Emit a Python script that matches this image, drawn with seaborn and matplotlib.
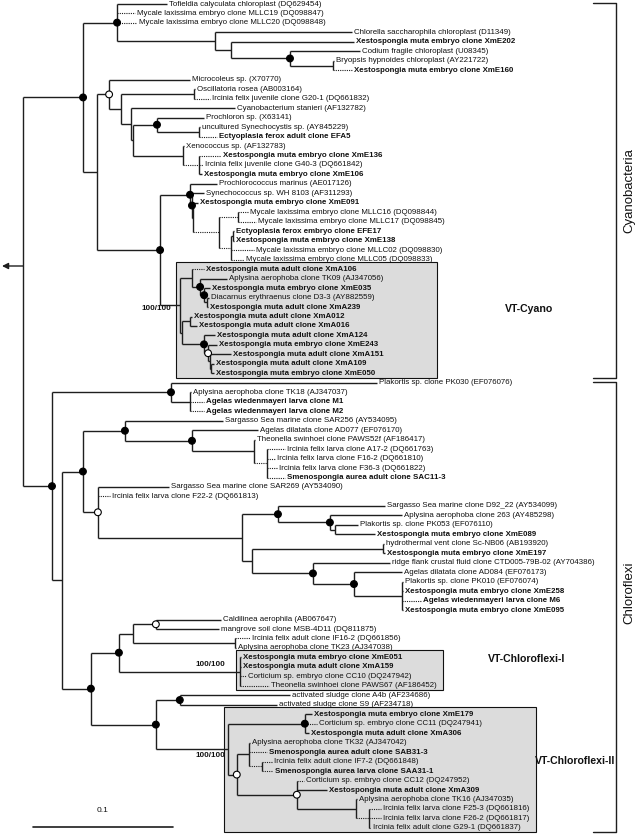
import matplotlib
matplotlib.use("Agg")
import matplotlib.pyplot as plt
from matplotlib.collections import LineCollection
from matplotlib.patches import Rectangle
import pandas as pd
import seaborn as sns

# ---------------- data ----------------
leaf_labels = [
    "Tofieldia calyculata chloroplast (DQ629454)",
    "Mycale laxissima embryo clone MLLC19 (DQ098847)",
    "Mycale laxissima embryo clone MLLC20 (DQ098848)",
    "Chlorella saccharophila chloroplast (D11349)",
    "Xestospongia muta embryo clone XmE202",
    "Codium fragile chloroplast (U08345)",
    "Bryopsis hypnoides chloroplast (AY221722)",
    "Xestospongia muta embryo clone XmE160",
    "Microcoleus sp. (X70770)",
    "Oscillatoria rosea (AB003164)",
    "Ircinia felix juvenile clone G20-1 (DQ661832)",
    "Cyanobacterium stanieri (AF132782)",
    "Prochloron sp. (X63141)",
    "uncultured Synechocystis sp. (AY845229)",
    "Ectyoplasia ferox adult clone EFA5",
    "Xenococcus sp. (AF132783)",
    "Xestospongia muta embryo clone XmE136",
    "Ircinia felix juvenile clone G40-3 (DQ661842)",
    "Xestospongia muta embryo clone XmE106",
    "Prochlorococcus marinus (AE017126)",
    "Synechococcus sp. WH 8103 (AF311293)",
    "Xestospongia muta embryo clone XmE091",
    "Mycale laxissima embryo clone MLLC16 (DQ098844)",
    "Mycale laxissima embryo clone MLLC17 (DQ098845)",
    "Ectyoplasia ferox embryo clone EFE17",
    "Xestospongia muta embryo clone XmE138",
    "Mycale laxissima embryo clone MLLC02 (DQ098830)",
    "Mycale laxissima embryo clone MLLC05 (DQ098833)",
    "Xestospongia muta adult clone XmA106",
    "Aplysina aerophoba clone TK09 (AJ347056)",
    "Xestospongia muta embryo clone XmE035",
    "Diacarnus erythraenus clone D3-3 (AY882559)",
    "Xestospongia muta adult clone XmA239",
    "Xestospongia muta adult clone XmA012",
    "Xestospongia muta adult clone XmA016",
    "Xestospongia muta adult clone XmA124",
    "Xestospongia muta embryo clone XmE243",
    "Xestospongia muta adult clone XmA151",
    "Xestospongia muta adult clone XmA109",
    "Xestospongia muta embryo clone XmE050",
    "Plakortis sp. clone PK030 (EF076076)",
    "Aplysina aerophoba clone TK18 (AJ347037)",
    "Agelas wiedenmayeri larva clone M1",
    "Agelas wiedenmayeri larva clone M2",
    "Sargasso Sea marine clone SAR256 (AY534095)",
    "Agelas dilatata clone AD077 (EF076170)",
    "Theonella swinhoei clone PAWS52f (AF186417)",
    "Ircinia felix larva clone A17-2 (DQ661763)",
    "Ircinia felix larva clone F16-2 (DQ661810)",
    "Ircinia felix larva clone F36-3 (DQ661822)",
    "Smenospongia aurea adult clone SAC11-3",
    "Sargasso Sea marine clone SAR269 (AY534090)",
    "Ircinia felix larva clone F22-2 (DQ661813)",
    "Sargasso Sea marine clone D92_22 (AY534099)",
    "Aplysina aerophoba clone 263 (AY485298)",
    "Plakortis sp. clone PK053 (EF076110)",
    "Xestospongia muta embryo clone XmE089",
    "hydrothermal vent clone Sc-NB06 (AB193920)",
    "Xestospongia muta embryo clone XmE197",
    "ridge flank crustal fluid clone CTD005-79B-02 (AY704386)",
    "Agelas dilatata clone AD084 (EF076173)",
    "Plakortis sp. clone PK010 (EF076074)",
    "Xestospongia muta embryo clone XmE258",
    "Agelas wiedenmayeri larva clone M6",
    "Xestospongia muta embryo clone XmE095",
    "Caldilinea aerophila (AB067647)",
    "mangrove soil clone MSB-4D11 (DQ811875)",
    "Ircinia felix adult clone IF16-2 (DQ661856)",
    "Aplysina aerophoba clone TK23 (AJ347038)",
    "Xestospongia muta embryo clone XmE051",
    "Xestospongia muta adult clone XmA159",
    "Corticium sp. embryo clone CC10 (DQ247942)",
    "Theonella swinhoei clone PAWS67 (AF186452)",
    "activated sludge clone A4b (AF234686)",
    "activated sludge clone S9 (AF234718)",
    "Xestospongia muta embryo clone XmE179",
    "Corticium sp. embryo clone CC11 (DQ247941)",
    "Xestospongia muta adult clone XmA306",
    "Aplysina aerophoba clone TK32 (AJ347042)",
    "Smenospongia aurea adult clone SAB31-3",
    "Ircinia felix adult clone IF7-2 (DQ661848)",
    "Smenospongia aurea larva clone SAA31-1",
    "Corticium sp. embryo clone CC12 (DQ247952)",
    "Xestospongia muta adult clone XmA309",
    "Aplysina aerophoba clone TK16 (AJ347035)",
    "Ircinia felix larva clone F25-3 (DQ661816)",
    "Ircinia felix larva clone F26-2 (DQ661817)",
    "Ircinia felix adult clone G29-1 (DQ661837)",
]
bold_taxa = ["Xestospongia muta", "Ectyoplasia ferox", "Agelas wiedenmayeri", "Smenospongia aurea"]

# Newick pieces: leaf number = index in leaf_labels (1-based); branch lengths in 0.001 subst./site
# flags: f = filled node (support), o = open node, d = dotted branch
chloroplasts = "(1:35.7,2d:12.9,3d:14.3,(4:97.9,(5:87.9,(6:50,(7:0.7,8d:13.6):30.7)f:42.1):11.4):70)f:24.3"
cyano_basal = ("(9:57.9,((10:0.7,11d:11.4):52.1,(12:74.3,((13:33.6,(14:0.7,15d:12.9):30)f:17.1,"
               "(16:0.7,(17d:15.7,18d:2.9,19:2.1)d:11.4):35.7):1.4):7.1):8.6)o:8.6")
cyano_marine = ("(20:19.3,(21:8.6,(22:3.6,((23d:7.1,24d:12.9)d:13.6,((25:0.7,26:0.4):1.4,27d:16.4,28d:9.3)d:8.6)d:18.6)"
                ":0.7)f:1.4)f:21.4")
vt_cyano = ("((29d:8.6,(30:19.3,(31:4.3,(32:1.4,33:0.7):2.1)f:2.9)f:5.7):8.6,"
            "((34:1.4,35:5):5.7,(36:7.9,(37:6.4,(38:15,(39:2.1,40:2.1):0.4):1.4)o:2.9)f:15.7):1.4):14.3")
plakortis = "(41:147.1,(42:0.7,43d:10,44d:10):13.6)f:85"
chloroflexi_a = "(45:70,(46:47.1,(47:0.7,(48d:12.9,49d:5.7,50d:7.1,51d:12.9)d:9.3):44.3)f:47.9)f:30"
chloroflexi_b = ("(52:50.7,53d:8.6,((54:76.4,(55:51.4,(56:16.4,57:28.6):3.6)f:37.1)f:25.7,"
                 "((58:0.7,59:1.4):93.6,(60:55,(61:34.3,(62:0.7,63:0.7,64d:13.6,65:0.7):34.3)f:29.3)f:43.6):7.1)"
                 ":102.9)o:10.7")
chloroflexi_c = ("(((66:46.4,67:45)o:16.4,(68d:10.7,69:0.7):72.9):10,"
                 "(70:0.7,71:0.7,72d:4.3,73d:20.7):86.4)f:20")
chloroflexi_d = ("((74:78.6,75:69.3)f:17.1,((76:5,77d:8.6,78:2.9)f:55,"
                 "((79:0.7,80d:12.9,(81d:7.1,82d:7.9)d:9.3):8.6,"
                 "(83d:5,84:21.4,(85:0.7,(86d:8.6,87d:8.6,88d:1.4)d:9.3):42.1)o:42.9)o:6.4):51.4)f:46.4")

box_clades = [("VT-Cyano", 29, 40), ("VT-Chloroflexi-I", 70, 73), ("VT-Chloroflexi-II", 76, 88)]
box_support = ["100/100", "100/100", "100/100"]
major_groups = [("Cyanobacteria", 1, 40), ("Chloroflexi", 41, 88)]
scale_value = 0.1
UNIT = 0.001

tree_str = ("(({chl},({cb},({cm},{vt})f:45):10)f:42.9,({pl},(({ca},{cbb})f:15,({cc},{cd})f:20.7):7.1)f:20.7)"
            .format(chl=chloroplasts, cb=cyano_basal, cm=cyano_marine, vt=vt_cyano, pl=plakortis,
                    ca=chloroflexi_a, cbb=chloroflexi_b, cc=chloroflexi_c, cd=chloroflexi_d))


# ---------------- parse ----------------
class Node:
    def __init__(self):
        self.children, self.leaf, self.flags, self.length = [], None, "", 0.0
        self.x = self.y = 0.0


def parse(s):
    pos = 0

    def node():
        nonlocal pos
        n = Node()
        if s[pos] == "(":
            pos += 1
            n.children.append(node())
            while s[pos] == ",":
                pos += 1
                n.children.append(node())
            pos += 1
        st = pos
        while pos < len(s) and s[pos] not in ":,)":
            pos += 1
        lab = s[st:pos]
        digits = "".join(c for c in lab if c.isdigit())
        if digits:
            n.leaf = int(digits)
        n.flags = "".join(c for c in lab if c.isalpha())
        if pos < len(s) and s[pos] == ":":
            pos += 1
            st = pos
            while pos < len(s) and s[pos] not in ",)":
                pos += 1
            n.length = float(s[st:pos])
        return n

    return node()


root = parse(tree_str)
nodes, leaves = [], []


def layout(n, x):
    n.x = x + n.length * UNIT
    nodes.append(n)
    if n.leaf is not None:
        n.y = n.leaf - 1
        leaves.append(n)
        n.span = (n.leaf, n.leaf)
    else:
        for c in n.children:
            layout(c, n.x)
        n.y = (n.children[0].y + n.children[-1].y) / 2
        n.span = (n.children[0].span[0], n.children[-1].span[1])


layout(root, 0.0)

# ---------------- figure ----------------
sns.set_theme(style="white")
plt.rcParams["font.family"] = ["Liberation Sans", "DejaVu Sans"]
W, H = 640, 836
fig = plt.figure(figsize=(W / 100, H / 100), dpi=100)
ax = fig.add_axes([0, 0, 1, 1])
PX = scale_value / 140.0          # data units per pixel (x)
ROOT_PX = 23
ROW = 9.47                        # pixels per leaf row
TOP = 4
ax.set_xlim(-ROOT_PX * PX, (W - ROOT_PX) * PX)
ax.set_ylim((H - TOP) / ROW, -TOP / ROW)
ax.axis("off")


def xp(p):
    return (p - ROOT_PX) * PX


def yp(p):
    return (p - TOP) / ROW


LC = "#1e1e1e"
solid, dotted = [], []
for n in nodes:
    if n.children:
        solid.append([(n.x, n.children[0].y), (n.x, n.children[-1].y)])
        for c in n.children:
            seg = [(n.x, c.y), (c.x, c.y)]
            (dotted if "d" in c.flags else solid).append(seg)
ax.add_collection(LineCollection(solid, colors=LC, linewidths=1.0, zorder=3, capstyle="butt"))
ax.add_collection(LineCollection(dotted, colors=LC, linewidths=0.8, linestyles=[(0, (1, 1))], zorder=3))

# root arrow (drawn at the level where the original figure places it)
ARROW_Y = yp(266)
ax.annotate("", xy=(xp(2), ARROW_Y), xytext=(root.x, ARROW_Y),
            arrowprops=dict(arrowstyle="-|>", color=LC, lw=1.0, mutation_scale=9, shrinkA=0, shrinkB=0))

# support markers
mk = pd.DataFrame([(n.x, n.y, "filled" if "f" in n.flags else "open")
                   for n in nodes if ("f" in n.flags or "o" in n.flags)], columns=["x", "y", "kind"])
sns.scatterplot(data=mk, x="x", y="y", hue="kind", palette={"filled": "black", "open": "white"},
                edgecolor="black", linewidth=0.8, s=24, legend=False, zorder=6, ax=ax)
ax.set_xlabel("")
ax.set_ylabel("")

# leaf labels
for lf in leaves:
    name = leaf_labels[lf.leaf - 1]
    bold = any(name.startswith(b) for b in bold_taxa)
    ax.text(lf.x + 2 * PX, lf.y, name, fontsize=5.7, fontweight="bold" if bold else "normal",
            color="#111111", va="center", ha="left", zorder=7)

# boxes
box_right_px = [437, 443, 536]
box_label_px = [(529, 309), (527, 659), (575, 761)]
support_px = [(171, 309), (225, 665), (225, 756)]
for (lab, a, b), sup, rp, (lx, ly), (sx, sy) in zip(box_clades, box_support, box_right_px, box_label_px, support_px):
    nd = [n for n in nodes if n.span == (a, b)][0]
    x0 = nd.x - 4 * PX
    ax.add_patch(Rectangle((x0, a - 1 - 0.75), xp(rp) - x0, (b - a) + 1.2,
                           facecolor="#dcdcdc", edgecolor="#111111", lw=0.8, zorder=1))
    ax.text(xp(lx), yp(ly), lab, fontsize=7.6, fontweight="bold", ha="center", va="center", color="#111111")
    ax.text(xp(sx), yp(sy), sup, fontsize=5.8, fontweight="bold", ha="right", va="center", color="#111111")

# major group brackets
for lab, a, b in major_groups:
    y0, y1 = a - 1 - 0.1, b - 1 + 0.45
    ax.plot([xp(593), xp(616), xp(616), xp(593)], [y0, y0, y1, y1], color=LC, lw=1.0)
    ax.text(xp(629), (y0 + y1) / 2 if lab == "Cyanobacteria" else yp(593), lab, rotation=90,
            fontsize=9.5, ha="center", va="center", color="#111111")

# scale bar
sx0 = xp(33)
ax.plot([sx0, sx0 + scale_value], [yp(827), yp(827)], color=LC, lw=1.2)
ax.text(sx0 + scale_value / 2, yp(811), "0.1", fontsize=6, ha="center", va="center", color="#111111")

fig.savefig("out.png", dpi=100)
